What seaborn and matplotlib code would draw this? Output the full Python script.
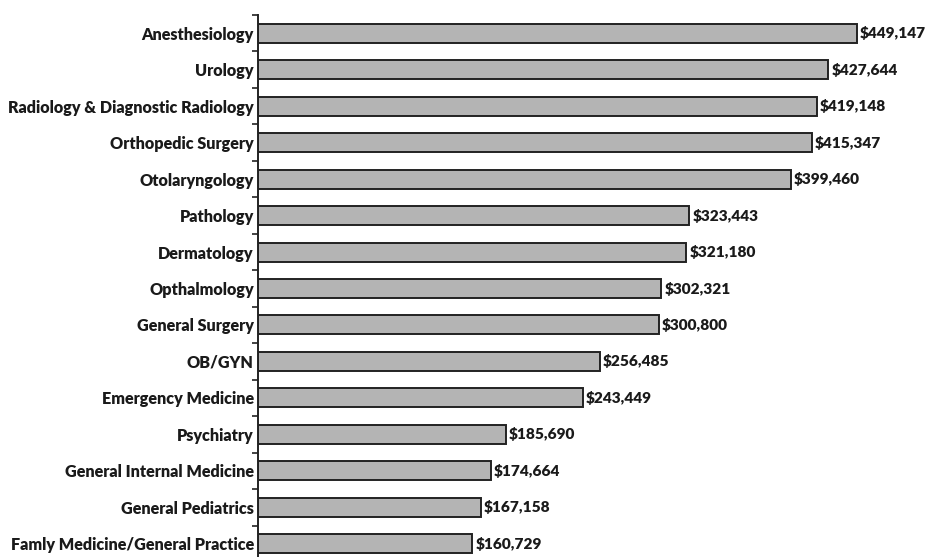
import numpy as np
import pandas as pd
import matplotlib
matplotlib.use("Agg")
import matplotlib.pyplot as plt
import seaborn as sns

# 各专科年薪数据
specialties = [
    "Anesthesiology", "Urology", "Radiology & Diagnostic Radiology",
    "Orthopedic Surgery", "Otolaryngology", "Pathology", "Dermatology",
    "Opthalmology", "General Surgery", "OB/GYN", "Emergency Medicine",
    "Psychiatry", "General Internal Medicine", "General Pediatrics",
    "Famly Medicine/General Practice",
]
salaries = [
    449147, 427644, 419148, 415347, 399460, 323443, 321180,
    302321, 300800, 256485, 243449, 185690, 174664, 167158, 160729,
]

sns.set_style("white")
plt.rcParams['font.family'] = ['Lato', 'DejaVu Sans']

df = pd.DataFrame({"Specialty": specialties, "Salary": salaries})

fig = plt.figure(figsize=(9.28, 5.57), dpi=100)
ax = fig.add_axes([258 / 928, 1 - 562 / 557, 1 - 258 / 928, (562 - 15) / 557])

sns.barplot(data=df, x="Salary", y="Specialty", orient="h", ax=ax,
            color="#b4b4b4", saturation=1, edgecolor="#222222",
            linewidth=1.4, width=0.52)

ax.set_xlim(0, 502300)
ax.set_ylim(len(specialties) - 0.5, -0.5)
ax.set_xlabel("")
ax.set_ylabel("")
ax.set_xticks([])

for s in ["top", "right", "bottom"]:
    ax.spines[s].set_visible(False)
ax.spines["left"].set_color("#222222")
ax.spines["left"].set_linewidth(1.4)

# 类别中心放标签，边界放刻度
ax.set_yticks(range(len(specialties)))
ax.set_yticklabels(specialties, fontsize=11.6, fontweight="heavy", color="#1a1a1a")
ax.tick_params(axis="y", which="major", length=0, pad=3)
ax.set_yticks(np.arange(-0.5, len(specialties), 1), minor=True)
ax.tick_params(axis="y", which="minor", length=4, width=1.2,
               direction="out", color="#222222", left=True)

for i, v in enumerate(salaries):
    ax.text(v + 2200, i, f"${v:,}", va="center", ha="left",
            fontsize=11.1, fontweight="heavy", color="#1a1a1a")

fig.savefig("out.png", dpi=100)
